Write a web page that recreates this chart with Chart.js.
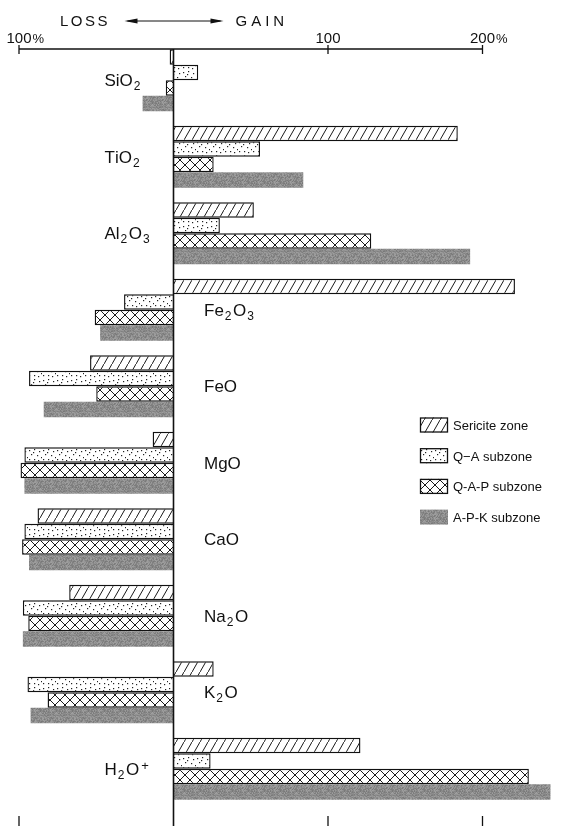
<!DOCTYPE html>
<html>
<head>
<meta charset="utf-8">
<script src="https://cdn.jsdelivr.net/npm/chart.js@4.4.1/dist/chart.umd.min.js"></script>
<style>
  html, body { margin: 0; padding: 0; background: #fff; }
  #wrap { width: 571px; height: 826px; position: relative; }
</style>
</head>
<body>
<div id="wrap"><canvas id="chart" width="571" height="826"></canvas></div>
<script>
// Oxide gains and losses (% relative to the fresh rock) for each alteration zone
const oxides = ['SiO2', 'TiO2', 'Al2O3', 'Fe2O3', 'FeO', 'MgO', 'CaO', 'Na2O', 'K2O', 'H2O+'];
const zoneNames = ['Sericite zone', 'Q\u2212A subzone', 'Q-A-P subzone', 'A-P-K subzone'];

const sericite = [-2.5, 184, 52, 221, -54, -13.5, -88, -67.5, 26, 121];
const qaSub    = [16, 56, 30, -32, -93.5, -96.5, -96.5, -97.5, -94.5, 24];
const qapSub   = [-5, 26, 128, -51, -50, -99, -98, -94, -81.5, 230];
const apkSub   = [-20, 84, 192, -47.5, -84, -96.5, -93.5, -97.5, -92.5, 244];

// Ruler along the top of the diagram
const rulerTicks  = [-100, 0, 100, 200];
const rulerLabels = ['100%', '', '100', '200%'];

// Oxide names written on the left of the zero line
const labelsOnLeft = ['SiO2', 'TiO2', 'Al2O3', 'H2O+'];

const FONT = '"Liberation Sans", Arial, sans-serif';

// ---- fill patterns -------------------------------------------------------
function tile(w, h, paint) {
  const c = document.createElement('canvas');
  c.width = w; c.height = h;
  const g = c.getContext('2d');
  paint(g, w, h);
  return document.createElement('canvas').getContext('2d').createPattern(c, 'repeat');
}
const hatchFill = tile(8, 14, (g, w, h) => {
  g.fillStyle = '#fff'; g.fillRect(0, 0, w, h);
  g.strokeStyle = '#1a1a1a'; g.lineWidth = 1;
  g.beginPath();
  g.moveTo(-1, h + h / w); g.lineTo(w + 1, -h / w);
  g.stroke();
});
const dotFill = tile(14, 14, (g, w, h) => {
  g.fillStyle = '#fff'; g.fillRect(0, 0, w, h);
  g.fillStyle = '#222';
  const pts = [[1,2],[6,1],[11,3],[3,6],[9,7],[13,9],[1,11],[6,11],[10,12],[5,4]];
  pts.forEach(([px, py]) => g.fillRect(px, py, 1.2, 1.2));
});
const crossFill = tile(10, 10, (g, w, h) => {
  g.fillStyle = '#fff'; g.fillRect(0, 0, w, h);
  g.strokeStyle = '#1a1a1a'; g.lineWidth = 1;
  g.beginPath();
  g.moveTo(-1, -1); g.lineTo(w + 1, h + 1);
  g.moveTo(-1, h + 1); g.lineTo(w + 1, -1);
  g.stroke();
});
const greyFill = tile(16, 16, (g, w, h) => {
  const img = g.createImageData(w, h);
  for (let yy = 0; yy < h; yy++) {
    for (let xx = 0; xx < w; xx++) {
      const k = ((xx * 73 + yy * 151) ^ (xx * yy * 29 + 17)) % 41;
      const v = 120 + k;
      const o = (yy * w + xx) * 4;
      img.data[o] = v; img.data[o + 1] = v; img.data[o + 2] = v; img.data[o + 3] = 255;
    }
  }
  g.putImageData(img, 0, 0);
});

const fills = [hatchFill, dotFill, crossFill, greyFill];
const series = [sericite, qaSub, qapSub, apkSub];

// ---- text helpers ----------------------------------------------------------
function drawFormula(ctx, text, x, baseline, size) {
  let cx = x;
  for (const ch of text) {
    if (/[0-9]/.test(ch)) {
      ctx.font = `${Math.round(size * 0.68)}px ${FONT}`;
      ctx.fillText(ch, cx + 1, baseline + 4);
      cx += ctx.measureText(ch).width + 2.5;
    } else if (ch === '+') {
      ctx.font = `${Math.round(size * 0.75)}px ${FONT}`;
      ctx.fillText(ch, cx + 2, baseline - 5);
      cx += ctx.measureText(ch).width + 2;
    } else {
      ctx.font = `${size}px ${FONT}`;
      ctx.fillText(ch, cx, baseline);
      cx += ctx.measureText(ch).width;
    }
  }
}
function spacedText(ctx, text, x, baseline, spacing, alignRight) {
  let total = 0;
  for (const ch of text) total += ctx.measureText(ch).width + spacing;
  total -= spacing;
  let cx = alignRight ? x - total : x;
  for (const ch of text) {
    ctx.fillText(ch, cx, baseline);
    cx += ctx.measureText(ch).width + spacing;
  }
}

// ---- decorations drawn with the chart's own scales ---------------------------
const decor = {
  id: 'decor',
  afterDatasetsDraw(chart) {
    const { ctx, chartArea, scales: { x, y } } = chart;
    const x0 = x.getPixelForValue(0);
    const rulerY = chartArea.top + 7;
    ctx.save();
    ctx.strokeStyle = '#111';
    ctx.fillStyle = '#111';
    ctx.textBaseline = 'alphabetic';

    // top ruler
    ctx.lineWidth = 1.3;
    ctx.beginPath();
    ctx.moveTo(x.getPixelForValue(rulerTicks[0]), rulerY);
    ctx.lineTo(x.getPixelForValue(rulerTicks[rulerTicks.length - 1]), rulerY);
    ctx.stroke();
    ctx.font = `15px ${FONT}`;
    rulerTicks.forEach((v, i) => {
      const px = x.getPixelForValue(v);
      if (v !== 0) {
        ctx.beginPath();
        ctx.moveTo(px, rulerY - 4);
        ctx.lineTo(px, rulerY + 5);
        ctx.stroke();
      }
      const lab = rulerLabels[i];
      if (!lab) return;
      const num = lab.replace('%', '');
      const w = ctx.measureText(num).width;
      ctx.textAlign = 'left';
      ctx.fillText(num, px - w / 2, rulerY - 6);
      if (lab.endsWith('%')) {
        ctx.font = `13px ${FONT}`;
        ctx.fillText('%', px + w / 2 + 1, rulerY - 6);
        ctx.font = `15px ${FONT}`;
      }
    });

    // LOSS <-> GAIN header
    const hy = rulerY - 28;
    ctx.font = `15px ${FONT}`;
    spacedText(ctx, 'LOSS', x0 - 66, hy + 5, 2.5, true);
    spacedText(ctx, 'GAIN', x0 + 62, hy + 5, 4, false);
    ctx.lineWidth = 1;
    ctx.beginPath();
    ctx.moveTo(x0 - 46, hy); ctx.lineTo(x0 + 47, hy);
    ctx.stroke();
    [[x0 - 49, -1], [x0 + 50, 1]].forEach(([tip, dir]) => {
      ctx.beginPath();
      ctx.moveTo(tip, hy);
      ctx.lineTo(tip - dir * 13, hy - 2.5);
      ctx.lineTo(tip - dir * 13, hy + 2.5);
      ctx.closePath();
      ctx.fill();
    });

    // zero line down the full height
    ctx.lineWidth = 1.6;
    ctx.beginPath();
    ctx.moveTo(x0, rulerY);
    ctx.lineTo(x0, chart.height);
    ctx.stroke();

    // ticks along the bottom edge
    ctx.lineWidth = 1.3;
    rulerTicks.forEach(v => {
      if (v === 0) return;
      const px = x.getPixelForValue(v);
      ctx.beginPath();
      ctx.moveTo(px, chart.height - 10);
      ctx.lineTo(px, chart.height);
      ctx.stroke();
    });

    // oxide names
    ctx.textAlign = 'left';
    oxides.forEach((name, i) => {
      const cy = y.getPixelForValue(i);
      const left = labelsOnLeft.includes(name);
      drawFormula(ctx, name, left ? x0 - 69 : x0 + 30.5, cy + 6, 17);
    });

    // legend
    const lx = 420, ly = 425, rowGap = 30.7;
    chart.data.datasets.forEach((ds, i) => {
      const cy = ly + i * rowGap;
      ctx.fillStyle = ds.backgroundColor;
      ctx.fillRect(lx, cy - 7.5, 28, 15);
      if (ds.borderWidth) {
        ctx.lineWidth = 1.3;
        ctx.strokeStyle = '#111';
        ctx.strokeRect(lx + 0.5, cy - 7, 27, 14);
      }
      ctx.fillStyle = '#111';
      ctx.font = `13px ${FONT}`;
      ctx.fillText(ds.label, lx + 33, cy + 5);
    });
    ctx.restore();
  }
};

new Chart(document.getElementById('chart'), {
  type: 'bar',
  data: {
    labels: oxides,
    datasets: series.map((vals, i) => ({
      label: zoneNames[i],
      data: vals,
      backgroundColor: fills[i],
      borderColor: '#111',
      borderWidth: i === 3 ? 0 : 1.4,
      borderSkipped: 'start',
      barPercentage: 1.0,
      categoryPercentage: 0.81
    }))
  },
  options: {
    indexAxis: 'y',
    responsive: false,
    animation: false,
    layout: { padding: { left: 19, right: 11.25, top: 42, bottom: 19 } },
    scales: {
      x: { display: false, min: -100, max: 250 },
      y: { display: false }
    },
    plugins: { legend: { display: false }, tooltip: { enabled: false } }
  },
  plugins: [decor]
});
</script>
</body>
</html>
